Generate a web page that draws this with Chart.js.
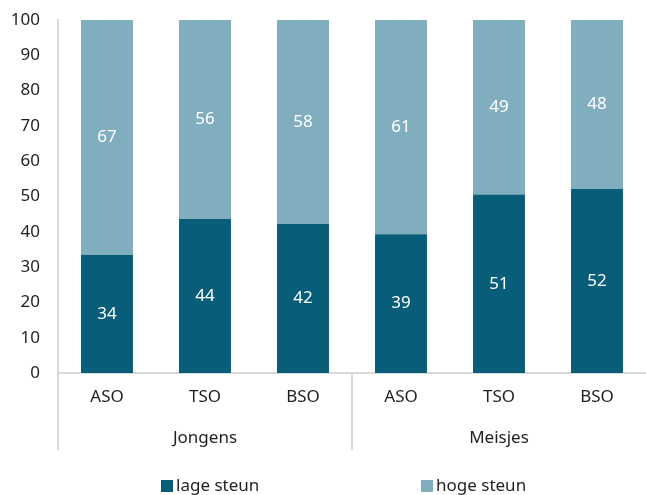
<!DOCTYPE html>
<html>
<head>
<meta charset="utf-8">
<script src="https://cdn.jsdelivr.net/npm/chart.js@4.4.1/dist/chart.umd.min.js"></script>
<style>
html,body{margin:0;padding:0;background:#fff;}
#wrap{width:646px;height:495px;position:relative;}
</style>
</head>
<body>
<div id="wrap"><canvas id="c" width="646" height="495"></canvas></div>
<script>
const categories = ["ASO", "TSO", "BSO", "ASO", "TSO", "BSO"];
const groups = ["Jongens", "Meisjes"];
const groupSizes = [3, 3];
const seriesNames = ["lage steun", "hoge steun"];
const lageSteun = [33.5, 43.6, 42.2, 39.3, 50.6, 52.1];
const hogeSteun = [66.5, 56.4, 57.8, 60.7, 49.4, 47.9];
const lageLabels = [34, 44, 42, 39, 51, 52];
const hogeLabels = [67, 56, 58, 61, 49, 48];
const yTicks = [0, 10, 20, 30, 40, 50, 60, 70, 80, 90, 100];

const FONT = "'Noto Sans', 'Open Sans', sans-serif";
const FS = 17;
const TEXT = "#1f1f1f";
const AXIS = "#d9d9d9";
const DARK = "#085d79";
const LIGHT = "#80aebe";

const valueLabels = {
  id: "valueLabels",
  afterDatasetsDraw(chart) {
    const ctx = chart.ctx;
    const lbls = [lageLabels, hogeLabels];
    ctx.save();
    ctx.fillStyle = "#ffffff";
    ctx.font = FS + "px " + FONT;
    ctx.textAlign = "center";
    ctx.textBaseline = "middle";
    chart.data.datasets.forEach((ds, di) => {
      chart.getDatasetMeta(di).data.forEach((bar, i) => {
        const yc = (bar.y + bar.base) / 2;
        ctx.fillText(String(lbls[di][i]), bar.x, yc);
      });
    });
    ctx.restore();
  }
};

const groupAxis = {
  id: "groupAxis",
  afterDraw(chart) {
    const ctx = chart.ctx;
    const xs = chart.scales.x;
    const area = chart.chartArea;
    const bottom = xs.bottom;
    ctx.save();
    ctx.strokeStyle = AXIS;
    ctx.lineWidth = 2;
    ctx.beginPath();
    ctx.moveTo(area.left, area.bottom);
    ctx.lineTo(area.left, bottom);
    ctx.stroke();
    let start = 0;
    ctx.fillStyle = TEXT;
    ctx.font = FS + "px " + FONT;
    ctx.textAlign = "center";
    ctx.textBaseline = "middle";
    groups.forEach((g, gi) => {
      const end = start + groupSizes[gi] - 1;
      const cx = (xs.getPixelForValue(start) + xs.getPixelForValue(end)) / 2;
      ctx.fillText(g, cx, bottom - 12);
      if (gi < groups.length - 1) {
        const sx = (xs.getPixelForValue(end) + xs.getPixelForValue(end + 1)) / 2;
        ctx.beginPath();
        ctx.moveTo(sx, area.bottom);
        ctx.lineTo(sx, bottom);
        ctx.stroke();
      }
      start = end + 1;
    });
    const colors = [DARK, LIGHT];
    const legendX = [161, 421];
    const ly = 486;
    ctx.textAlign = "left";
    seriesNames.forEach((n, i) => {
      ctx.fillStyle = colors[i];
      ctx.fillRect(legendX[i], ly - 6, 12, 12);
      ctx.fillStyle = TEXT;
      ctx.fillText(n, legendX[i] + 15, ly);
    });
    ctx.restore();
  }
};

new Chart(document.getElementById("c"), {
  type: "bar",
  data: {
    labels: categories,
    datasets: [
      { label: seriesNames[0], data: lageSteun, backgroundColor: DARK, borderWidth: 0 },
      { label: seriesNames[1], data: hogeSteun, backgroundColor: LIGHT, borderWidth: 0 }
    ]
  },
  options: {
    responsive: false,
    animation: false,
    devicePixelRatio: 1,
    layout: { padding: { left: 8, right: 0, top: 20, bottom: 45 } },
    plugins: { legend: { display: false }, tooltip: { enabled: false } },
    scales: {
      x: {
        stacked: true,
        grid: { display: false, drawTicks: false },
        border: { display: true, color: AXIS, width: 2 },
        ticks: { color: TEXT, font: { family: FONT, size: FS }, padding: 14, maxRotation: 0 },
        afterFit(scale) { scale.height = 77; scale.paddingLeft = 0; scale.paddingRight = 0; }
      },
      y: {
        stacked: true,
        min: 0,
        max: 100,
        afterBuildTicks(scale) { scale.ticks = yTicks.map(v => ({ value: v })); },
        afterFit(scale) { scale.width = 50; scale.paddingTop = 0; scale.paddingBottom = 0; },
        grid: { display: false, drawTicks: false },
        border: { display: true, color: AXIS, width: 2 },
        ticks: { color: TEXT, font: { family: FONT, size: FS }, padding: 18 }
      }
    },
    datasets: { bar: { categoryPercentage: 1, barPercentage: 0.53 } }
  },
  plugins: [valueLabels, groupAxis]
});
</script>
</body>
</html>
